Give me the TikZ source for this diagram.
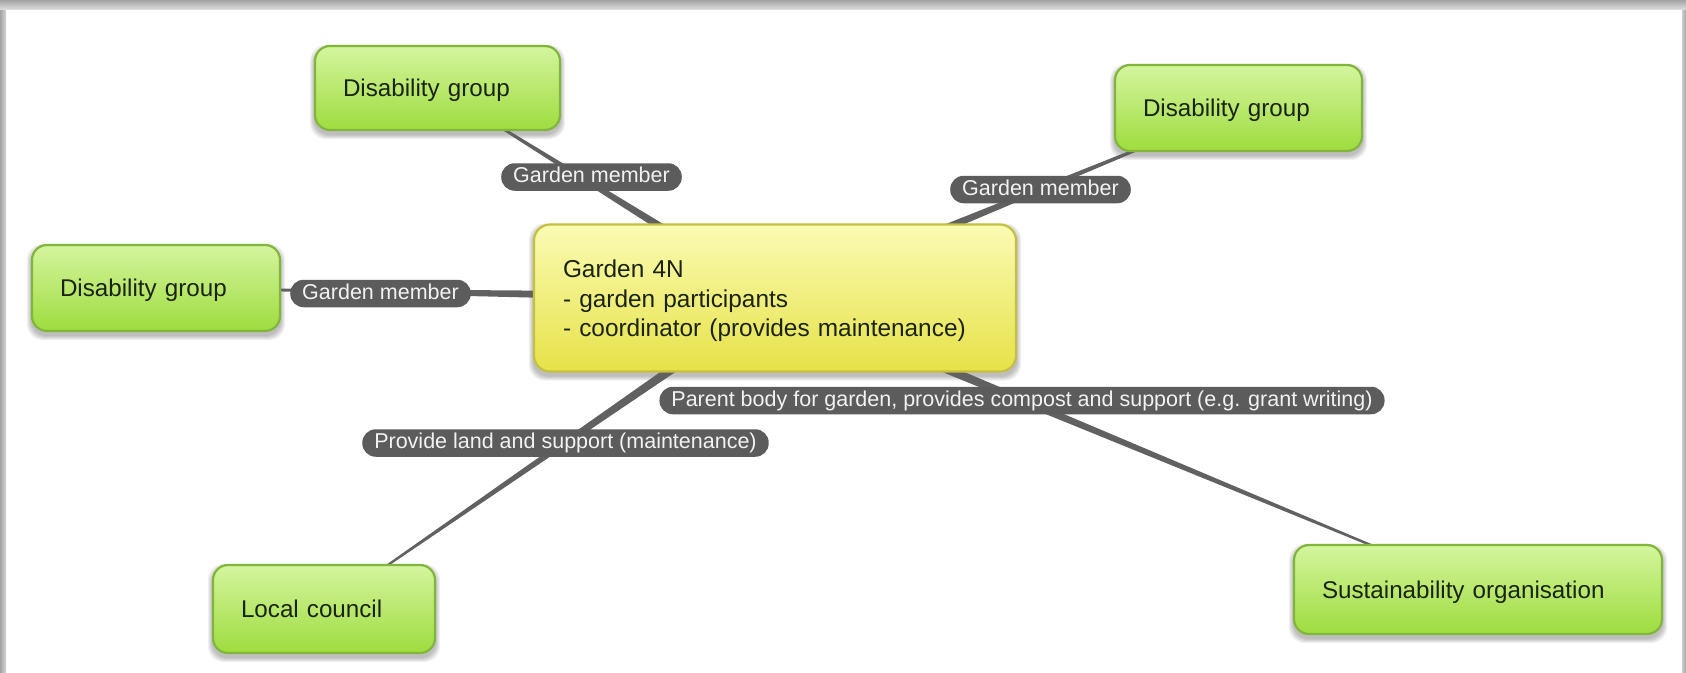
\documentclass[tikz,border=0pt]{standalone}
\usepackage{fontspec}
\setmainfont{Liberation Sans}
\usetikzlibrary{calc}

\definecolor{lineGray}{HTML}{616161}
\definecolor{lblFill}{HTML}{5C5C5C}
\definecolor{lblText}{HTML}{F2F2F2}
\definecolor{gEdge}{HTML}{82B53C}
\definecolor{gTop}{HTML}{D4F59E}
\definecolor{gMid}{HTML}{AEE754}
\definecolor{gBot}{HTML}{9EDC3E}
\definecolor{gText}{HTML}{1B2412}
\definecolor{yEdge}{HTML}{C4C040}
\definecolor{yTop}{HTML}{FBFBB4}
\definecolor{yMid}{HTML}{F6F266}
\definecolor{yBot}{HTML}{E6E248}

\pgfdeclarelayer{frame}
\pgfdeclarelayer{lines}
\pgfsetlayers{frame,lines,main}

% tapered connector from the hub (#1) to an outer node (#2)
\newcommand\taperlink[2]{%
  \fill[conn] ($(#1.center)!5.5pt!90:(#2.center)$)
    -- ($(#2.center)!0.4pt!-90:(#1.center)$)
    -- ($(#2.center)!0.4pt!90:(#1.center)$)
    -- ($(#1.center)!5.5pt!-90:(#2.center)$) -- cycle;}

% soft shadow under a box, built from stacked translucent rounded rectangles
\newcommand\softshadow[1]{%
  \foreach \k in {1,...,5}{%
    \fill[black, opacity=0.055, rounded corners=16pt]
      ([shift={(1-\k,5-\k)}]#1.north west) rectangle ([shift={(\k-1,3+\k)}]#1.south east);}}

\tikzset{
  conn/.style={fill=lineGray},
  gbox/.style={rectangle, rounded corners=15pt, draw=gEdge, line width=2.2pt,
    top color=gTop, middle color=gMid, bottom color=gBot, text=gText,
    font=\fontsize{24.2}{29}\selectfont, align=left, inner xsep=28pt,
    inner ysep=0pt, text height=17.5pt, text depth=0pt},
  hubbox/.style={rectangle, rounded corners=16pt, draw=yEdge, line width=2.2pt,
    top color=yTop, middle color=yMid, bottom color=yBot, text=gText,
    font=\fontsize{24.4}{29.5}\selectfont, align=left, inner xsep=29pt,
    inner ysep=0pt},
  lbl/.style={rectangle, rounded corners=13.5pt, fill=lblFill, text=lblText,
    font=\fontsize{21.5}{25}\selectfont, inner xsep=12pt, inner ysep=0pt,
    minimum height=27.5pt, text height=15.5pt, text depth=4.5pt},
}

\begin{document}
\begin{tikzpicture}[x=1pt,y=-1pt]
\useasboundingbox (0,0) rectangle (1686,672);

\begin{pgfonlayer}{frame}
  \fill[white] (0,0) rectangle (1686,672);
  \fill[left color=black!36, right color=black!16] (0,0) rectangle (6,672);
  \fill[left color=black!20, right color=black!34] (1682,0) rectangle (1686,672);
  \fill[top color=black!36, bottom color=black!14] (0,0) rectangle (1686,9);
\end{pgfonlayer}

% hub
\node[hubbox, minimum width=482pt, minimum height=147pt, text width=424pt]
  (hub) at (775,298) {\rule{0pt}{24pt}Garden 4N\\- garden participants\\- coordinator (provides maintenance)};

% partners
\node[gbox, minimum width=245pt, minimum height=84pt, text width=189pt]
  (dgA) at (437.5,88) {Disability group};
\node[gbox, minimum width=247pt, minimum height=86pt, text width=191pt]
  (dgB) at (1238.5,108) {Disability group};
\node[gbox, minimum width=248pt, minimum height=86pt, text width=192pt]
  (dgC) at (156,288) {Disability group};
\node[gbox, minimum width=222pt, minimum height=88pt, text width=166pt]
  (council) at (324,609) {Local council};
\node[gbox, minimum width=368pt, minimum height=89pt, text width=312pt]
  (sustain) at (1478,589.5) {Sustainability organisation};

% connectors and shadows beneath the boxes
\begin{pgfonlayer}{lines}
  \softshadow{hub}
  \softshadow{dgA}
  \softshadow{dgB}
  \softshadow{dgC}
  \softshadow{council}
  \softshadow{sustain}
  \taperlink{hub}{dgA}
  \taperlink{hub}{dgB}
  \taperlink{hub}{dgC}
  \taperlink{hub}{council}
  \taperlink{hub}{sustain}
\end{pgfonlayer}

% relation labels
\node[lbl] (lA) at (591.5,177) {Garden member};
\node[lbl] (lB) at (1040.5,189.5) {Garden member};
\node[lbl] (lC) at (380.5,293.5) {Garden member};
\node[lbl] (lD) at (1022,400.5) {Parent body for garden, provides compost and support (e.g. grant writing)};
\node[lbl] (lE) at (565.5,443) {Provide land and support (maintenance)};
\end{tikzpicture}
\end{document}
